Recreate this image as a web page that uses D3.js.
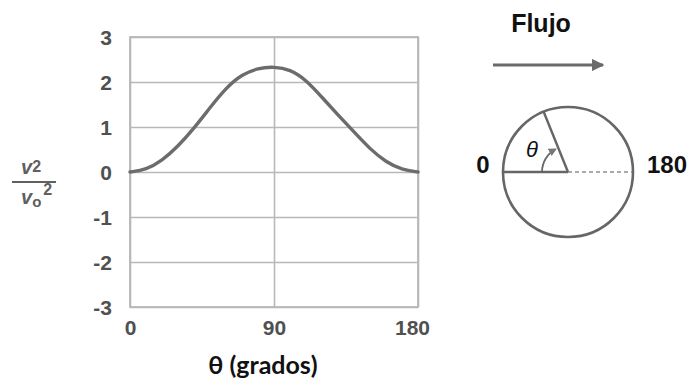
<!DOCTYPE html>
<html>
<head>
<meta charset="utf-8">
<script src="https://cdn.jsdelivr.net/npm/d3@7"></script>
<style>
  html, body { margin: 0; padding: 0; background: #fff; }
  svg { display: block; }
</style>
</head>
<body>
<svg id="chart" width="694" height="392"></svg>
<script>
// ---- data ----
const thetaDeg = [0, 10, 20, 30, 40, 50, 60, 70, 80, 90, 100, 110, 120, 130, 140, 150, 160, 170, 180];
const velRatio = [0, 0.05, 0.25, 0.57, 0.97, 1.43, 1.87, 2.17, 2.31, 2.34, 2.28, 2.05, 1.66, 1.27, 0.89, 0.51, 0.22, 0.05, 0];
const yTicks = [-3, -2, -1, 0, 1, 2, 3];
const xTicks = [0, 90, 180];
const xTitle = "θ (grados)";
const flowLabel = "Flujo";
const diagLabels = ["0", "180"];

// ---- layout ----
const svg = d3.select("#chart");
const L = 130, R = 418, T = 37, B = 307;
const x = d3.scaleLinear().domain([0, 180]).range([L, R]);
const y = d3.scaleLinear().domain([-3, 3]).range([B, T]);
const gridCol = "#b8b8b8";
const tickCol = "#505050";

// horizontal grid via axis
const gy = svg.append("g").attr("transform", `translate(${L},0)`)
  .call(d3.axisLeft(y).tickValues(yTicks).tickSize(-(R - L)).tickPadding(18)
    .tickFormat(d => String(d)));
gy.select(".domain").remove();
gy.selectAll(".tick line").attr("stroke", gridCol).attr("stroke-width", 1.6);
gy.selectAll(".tick text")
  .attr("fill", tickCol).attr("font-family", "Liberation Sans, Arial, sans-serif")
  .attr("font-weight", "bold").attr("font-size", 21).attr("dy", "0.36em");

// vertical grid via axis
const gx = svg.append("g").attr("transform", `translate(0,${B})`)
  .call(d3.axisBottom(x).tickValues(xTicks).tickSize(-(B - T)).tickPadding(13)
    .tickFormat(d => String(d)));
gx.select(".domain").remove();
gx.selectAll(".tick line").attr("stroke", gridCol).attr("stroke-width", 1.6);
gx.selectAll(".tick text")
  .attr("fill", tickCol).attr("font-family", "Liberation Sans, Arial, sans-serif")
  .attr("font-weight", "bold").attr("font-size", 21).attr("dy", "0.71em");
gx.selectAll(".tick text").filter(d => d === 180).attr("dx", -6);

// frame
svg.append("rect").attr("x", L).attr("y", T).attr("width", R - L).attr("height", B - T)
  .attr("fill", "none").attr("stroke", gridCol).attr("stroke-width", 1.8);

// curve
const line = d3.line().x((d, i) => x(thetaDeg[i])).y(d => y(d)).curve(d3.curveBasis);
svg.append("path").datum(velRatio).attr("d", line)
  .attr("fill", "none").attr("stroke", "#6c6c6c").attr("stroke-width", 3.4)
  .attr("stroke-linecap", "round");

// x title
svg.append("text").attr("x", 263).attr("y", 374).attr("text-anchor", "middle")
  .attr("font-family", "Lato, 'Open Sans', sans-serif").attr("font-weight", "bold")
  .attr("font-size", 25).attr("fill", "#111").text(xTitle);

// y label fraction v^2 / vo^2
const fy = svg.append("g").attr("fill", "#606060")
  .attr("font-family", "Liberation Sans, Arial, sans-serif").attr("font-weight", "bold");
const num = fy.append("text").attr("x", 21).attr("y", 174).attr("font-size", 20);
num.append("tspan").attr("font-style", "italic").text("v");
num.append("tspan").attr("font-size", 16).attr("dy", -2).text("2");
fy.append("line").attr("x1", 12).attr("x2", 56).attr("y1", 182).attr("y2", 182)
  .attr("stroke", "#606060").attr("stroke-width", 2);
const den = fy.append("text").attr("x", 21).attr("y", 204).attr("font-size", 20);
den.append("tspan").attr("font-style", "italic").text("v");
den.append("tspan").attr("font-size", 15).attr("dy", 3).text("o");
den.append("tspan").attr("font-size", 16).attr("dy", -12).attr("dx", 2).text("2");

// ---- diagram ----
const defs = svg.append("defs");
defs.append("marker").attr("id", "ah").attr("viewBox", "0 0 10 10")
  .attr("refX", 9).attr("refY", 5).attr("markerWidth", 4.5).attr("markerHeight", 4.5)
  .attr("markerUnits", "strokeWidth").attr("orient", "auto")
  .append("path").attr("d", "M0,0 L10,5 L0,10 z").attr("fill", "#6a6a6a");
defs.append("marker").attr("id", "ah2").attr("viewBox", "0 0 10 10")
  .attr("refX", 8).attr("refY", 5).attr("markerWidth", 4.5).attr("markerHeight", 4.5)
  .attr("markerUnits", "strokeWidth").attr("orient", "auto")
  .append("path").attr("d", "M0,0 L10,5 L0,10 z").attr("fill", "#777");

svg.append("text").attr("x", 541).attr("y", 32).attr("text-anchor", "middle")
  .attr("font-family", "Liberation Sans, Arial, sans-serif").attr("font-weight", "bold")
  .attr("font-size", 25).attr("fill", "#111").text(flowLabel);
svg.append("line").attr("x1", 493).attr("x2", 603).attr("y1", 65).attr("y2", 65)
  .attr("stroke", "#6a6a6a").attr("stroke-width", 2.8).attr("marker-end", "url(#ah)");

const cx = 568, cy = 172, cr = 65;
const sc = "#666";
svg.append("line").attr("x1", cx).attr("x2", cx + cr).attr("y1", cy).attr("y2", cy)
  .attr("stroke", "#aaa").attr("stroke-width", 2).attr("stroke-dasharray", "4,3");
svg.append("line").attr("x1", cx - cr).attr("x2", cx).attr("y1", cy).attr("y2", cy)
  .attr("stroke", sc).attr("stroke-width", 2.4);
const ang = 68 * Math.PI / 180;
svg.append("line").attr("x1", cx).attr("y1", cy)
  .attr("x2", cx - cr * Math.cos(ang)).attr("y2", cy - cr * Math.sin(ang))
  .attr("stroke", sc).attr("stroke-width", 2.4);
svg.append("circle").attr("cx", cx).attr("cy", cy).attr("r", cr)
  .attr("fill", "none").attr("stroke", sc).attr("stroke-width", 2.6);
const ar = 26, endA = ang - 0.12;
const sx = cx - ar, sy = cy;
const ex = cx - ar * Math.cos(endA), ey = cy - ar * Math.sin(endA);
svg.append("path").attr("d", `M${sx},${sy} A${ar},${ar} 0 0 1 ${ex},${ey}`)
  .attr("fill", "none").attr("stroke", sc).attr("stroke-width", 1.8)
  .attr("marker-end", "url(#ah2)");
svg.append("text").attr("x", 532).attr("y", 157).attr("text-anchor", "middle")
  .attr("font-family", "Liberation Sans, Arial, sans-serif").attr("font-style", "italic")
  .attr("font-size", 22).attr("fill", "#111").text("θ");
svg.append("text").attr("x", 483).attr("y", 173).attr("text-anchor", "middle")
  .attr("font-family", "Liberation Sans, Arial, sans-serif").attr("font-weight", "bold")
  .attr("font-size", 24).attr("fill", "#111").text(diagLabels[0]);
svg.append("text").attr("x", 647).attr("y", 173).attr("text-anchor", "start")
  .attr("font-family", "Liberation Sans, Arial, sans-serif").attr("font-weight", "bold")
  .attr("font-size", 24).attr("fill", "#111").text(diagLabels[1]);
</script>
</body>
</html>
